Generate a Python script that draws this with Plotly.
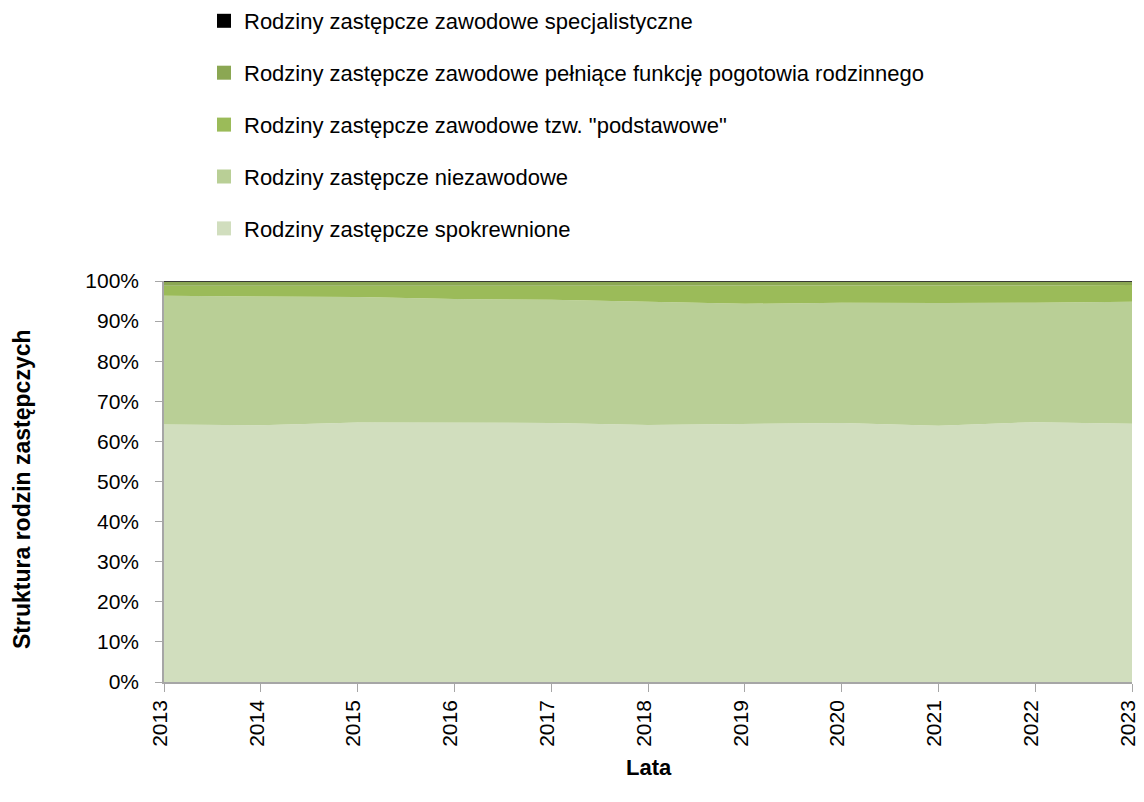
import plotly.graph_objects as go

years = [2013, 2014, 2015, 2016, 2017, 2018, 2019, 2020, 2021, 2022, 2023]
spokrewnione = [64.2, 64.0, 64.7, 64.6, 64.6, 64.1, 64.3, 64.6, 63.9, 64.8, 64.4]
niezawodowe = [32.1, 32.2, 31.3, 30.9, 30.7, 30.7, 30.0, 30.0, 30.6, 29.8, 30.4]
podstawowe = [2.5, 2.6, 2.8, 3.3, 3.5, 4.1, 4.6, 4.3, 4.4, 4.3, 4.2]
pogotowie = [1.0, 1.0, 1.0, 1.0, 1.0, 0.9, 0.9, 0.9, 0.9, 0.9, 0.8]
specjalistyczne = [0.2, 0.2, 0.2, 0.2, 0.2, 0.2, 0.2, 0.2, 0.2, 0.2, 0.2]
y_ticks = [0, 10, 20, 30, 40, 50, 60, 70, 80, 90, 100]
y_tick_labels = [f"{v}%" for v in y_ticks]
x_title = "Lata"
y_title = "Struktura rodzin zastępczych"

series = [
    ("Rodziny zastępcze spokrewnione", spokrewnione, "#D1DEBE"),
    ("Rodziny zastępcze niezawodowe", niezawodowe, "#B9CF96"),
    ("Rodziny zastępcze zawodowe tzw. \"podstawowe\"", podstawowe, "#9BBB59"),
    ("Rodziny zastępcze zawodowe pełniące funkcję pogotowia rodzinnego", pogotowie, "#8BA753"),
    ("Rodziny zastępcze zawodowe specjalistyczne", specjalistyczne, "#000000"),
]

fig = go.Figure()
for i, (name, vals, col) in enumerate(series):
    fig.add_trace(go.Scatter(
        x=years, y=vals, name=name, mode="lines",
        stackgroup="one", line=dict(width=0, color=col), fillcolor=col,
        showlegend=False, hoverinfo="x+y+name",
    ))
# legend entries with square swatches (top of stack listed first)
for i, (name, vals, col) in enumerate(reversed(series)):
    fig.add_trace(go.Scatter(
        x=[None], y=[None], name=name, mode="markers",
        marker=dict(symbol="square", size=14, color=col, line=dict(width=0)),
        legendgroup=f"g{i}", showlegend=True,
    ))

font_family = "Liberation Sans, Arial, sans-serif"
W, H = 1136, 794
T, B = 273, 120
plot_h = H - T - B
fig.update_layout(
    width=W, height=H,
    margin=dict(l=156, r=12, t=T, b=B, autoexpand=False),
    paper_bgcolor="white", plot_bgcolor="white",
    font=dict(family=font_family, size=21, color="#000000"),
    showlegend=True,
    legend=dict(
        orientation="v", xref="container", x=196 / W, xanchor="left",
        yref="paper", y=1 + (T + 8) / plot_h, yanchor="top",
        traceorder="grouped", tracegroupgap=20.3,
        font=dict(size=22), bgcolor="rgba(0,0,0,0)",
    ),
    xaxis=dict(
        range=[2013, 2023], tickmode="array", tickvals=years,
        ticktext=[str(y) for y in years], tickangle=-90,
        tickfont=dict(size=21), ticklabeloverflow="allow", ticklabelshift=-4,
        showline=True, linecolor="#A6A6A6", linewidth=1.5,
        ticks="outside", ticklen=8, tickcolor="#A6A6A6",
        showgrid=False, zeroline=False, automargin=False,
    ),
    yaxis=dict(
        range=[0, 100], tickmode="array", tickvals=y_ticks, ticktext=y_tick_labels,
        tickfont=dict(size=21),
        showline=True, linecolor="#A6A6A6", linewidth=1.5,
        ticks="outside", ticklen=7, tickcolor="#A6A6A6",
        ticklabelstandoff=12,
        showgrid=False, zeroline=False, automargin=False,
    ),
    annotations=[
        dict(text=f"<b>{x_title}</b>", xref="paper", yref="paper",
             x=(641 - 156) / 968, y=(674 - 759) / plot_h, xanchor="center", yanchor="middle",
             showarrow=False, font=dict(size=22)),
        dict(text=f"<b>{y_title}</b>", xref="paper", yref="paper",
             x=(14 - 156) / 968, y=(674 - 481) / plot_h, xanchor="center", yanchor="middle",
             textangle=-90, showarrow=False, font=dict(size=23)),
    ],
)

fig.write_html("out.html")
